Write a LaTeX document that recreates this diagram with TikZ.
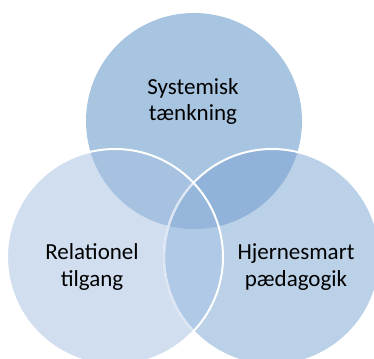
\documentclass[tikz,border=0pt]{standalone}
\usepackage{fontspec}
\setmainfont{Carlito}
\begin{document}
\begin{tikzpicture}[x=1pt,y=1pt,
  lbl/.style={align=center,inner sep=0pt,font=\fontsize{23}{26.5}\selectfont,text=black},
  rim/.style={line width=2pt}]
\definecolor{ctop}{HTML}{A7C4E0}
\definecolor{cleft}{HTML}{D0DEEF}
\definecolor{cright}{HTML}{BAD1E8}
\definecolor{ctl}{HTML}{A6C2E0}
\definecolor{ctr}{HTML}{92B3D9}
\definecolor{clr}{HTML}{AFC9E6}
\definecolor{ctlr}{HTML}{96B6DB}
\definecolor{cfaint}{HTML}{DCE6F3}
\useasboundingbox (0,0) rectangle (374,358);
\clip (0,0) rectangle (374,358);
\coordinate (T) at (194,237);
\coordinate (L) at (115,101);
\coordinate (R) at (272,101);
\def\rad{108pt}
% base discs
\fill[ctop] (T) circle (\rad);
\fill[cright] (R) circle (\rad);
\fill[cleft] (L) circle (\rad);
% pairwise overlaps
\begin{scope}
  \clip (T) circle (\rad);
  \fill[ctr] (R) circle (\rad);
  \fill[ctl] (L) circle (\rad);
\end{scope}
\begin{scope}
  \clip (L) circle (\rad);
  \fill[clr] (R) circle (\rad);
\end{scope}
% triple overlap
\begin{scope}
  \clip (T) circle (\rad);
  \clip (L) circle (\rad);
  \fill[ctlr] (R) circle (\rad);
\end{scope}
% outlines
\draw[rim,white] (R) circle (\rad);
\begin{scope}
  \clip (L) circle (\rad);
  \draw[rim,cfaint] (R) circle (\rad);
\end{scope}
\draw[rim,white] (L) circle (\rad);
% labels
\node[lbl] (sys) at (193,256.5) {Systemisk\\tænkning};
\node[lbl] (rel) at (92,91) {Relationel\\tilgang};
\node[lbl] (hje) at (296,91) {Hjernesmart\\pædagogik};
\end{tikzpicture}
\end{document}
